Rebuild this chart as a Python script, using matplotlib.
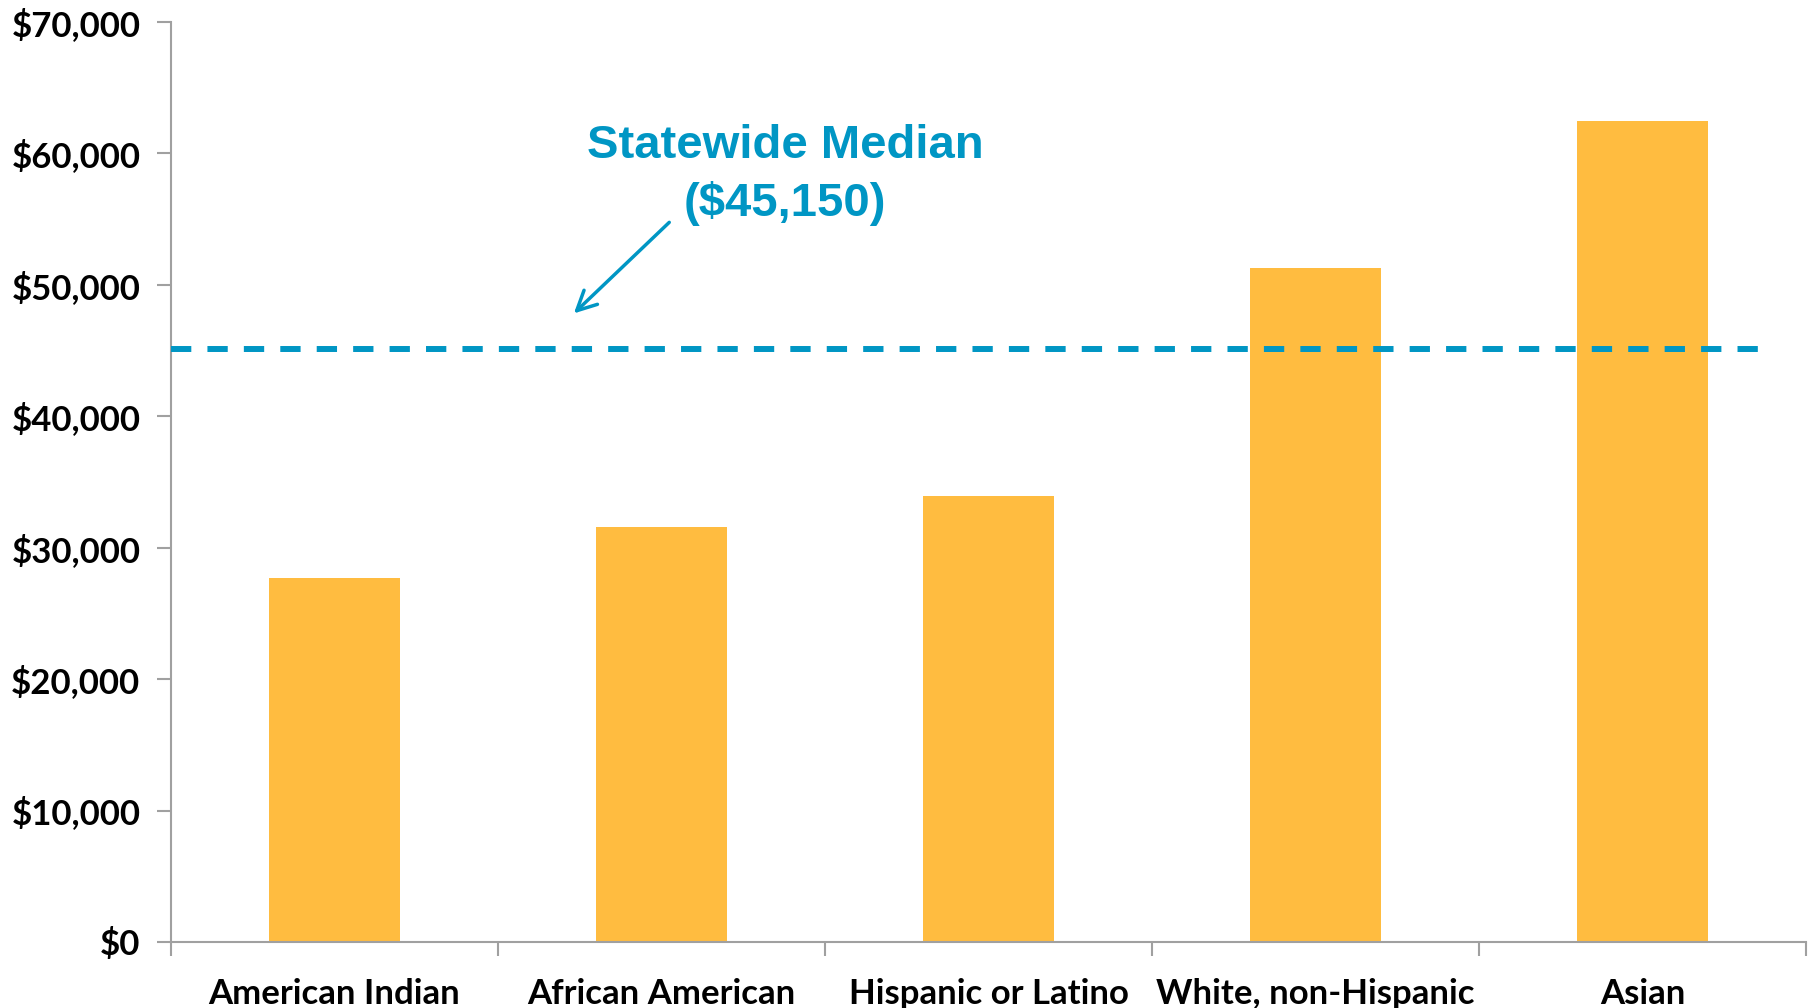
import matplotlib
matplotlib.use("Agg")
import matplotlib.pyplot as plt
from matplotlib.ticker import FuncFormatter, FixedLocator

categories = ["American Indian", "African American", "Hispanic or Latino",
              "White, non-Hispanic", "Asian"]
income = [27700, 31600, 33900, 51300, 62500]
statewide_median = 45150
yticks = [0, 10000, 20000, 30000, 40000, 50000, 60000, 70000]

bar_color = "#FFBC40"
line_color = "#0096C4"
axis_color = "#A0A0A0"

fig = plt.figure(figsize=(18.15, 10.08), dpi=100)
ax = fig.add_axes([0.0942, 0.0655, 0.9008, 0.9127])

x = list(range(len(categories)))
ax.bar(x, income, width=0.4, color=bar_color, zorder=2)

ax.set_xlim(-0.5, len(categories) - 0.5)
ax.set_ylim(0, 70000)

ax.hlines(statewide_median, -0.5, 4.39, colors=line_color, linewidth=4.3,
          linestyles=(0, (3.4, 2.7)), zorder=3)

ax.annotate("", xy=(0.726, 47680), xytext=(1.03, 54900),
            arrowprops=dict(arrowstyle="->", color=line_color, lw=2.5,
                            mutation_scale=35))
ax.text(1.378, 58350, "Statewide Median\n($45,150)", ha="center", va="center",
        color=line_color, fontsize=34, fontweight="bold",
        family="Liberation Sans", linespacing=1.38)

# spines
for s in ["top", "right"]:
    ax.spines[s].set_visible(False)
for s in ["left", "bottom"]:
    ax.spines[s].set_color(axis_color)
    ax.spines[s].set_linewidth(1.5)

ax.yaxis.set_major_locator(FixedLocator(yticks))
ax.yaxis.set_major_formatter(FuncFormatter(lambda v, p: "${:,.0f}".format(v)))
ax.tick_params(axis="y", length=10, width=1.5, color=axis_color, pad=12,
               labelsize=25)

ax.set_xticks([i - 0.5 for i in range(len(categories) + 1)], minor=False)
ax.set_xticklabels([])
ax.set_xticks(x, minor=True)
ax.set_xticklabels(categories, minor=True)
ax.tick_params(axis="x", which="major", length=10, width=1.5, color=axis_color)
ax.tick_params(axis="x", which="minor", length=0, pad=26, labelsize=25)

for lab in ax.get_yticklabels() + ax.get_xticklabels(minor=True):
    lab.set_fontweight("bold")
    lab.set_family("Lato")
    lab.set_color("black")

fig.savefig("out.png", dpi=100, facecolor="white")
